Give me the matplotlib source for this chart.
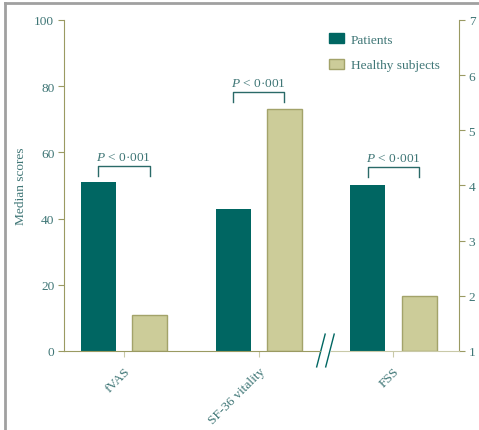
import numpy as np
import matplotlib
matplotlib.use('Agg')
import matplotlib.pyplot as plt
import matplotlib.transforms as mtransforms
from matplotlib.lines import Line2D
from matplotlib.patches import Patch

plt.rcParams['font.family'] = 'Liberation Serif'
plt.rcParams['mathtext.fontset'] = 'custom'
plt.rcParams['mathtext.rm'] = 'Liberation Serif'
plt.rcParams['mathtext.it'] = 'Liberation Serif:italic'

# Median scores (fVAS and SF-36 on 0-100 scale, FSS on 1-7 scale)
categories = ['fVAS', 'SF-36 vitality', 'FSS']
patients = [51, 43, 4.0]
healthy = [11, 73, 2.0]
p_labels = ['$P$ < 0·001', '$P$ < 0·001', '$P$ < 0·001']

teal = '#006662'
khaki = '#cccc99'
khaki_edge = '#a3a36a'
axis_col = '#9a9a62'
text_col = '#3f7676'
fs = 9.6

fig = plt.figure(figsize=(4.79, 4.31), dpi=100)
ax = fig.add_axes([0.1336, 0.1833, 0.8246, 0.768])
ax2 = ax.twinx()

x = np.arange(len(categories))
w = 0.26
off = 0.19

# first two groups on the left scale
ax.bar(x[:2] - off, patients[:2], w, color=teal, label='Patients')
ax.bar(x[:2] + off, healthy[:2], w, color=khaki, edgecolor=khaki_edge,
       linewidth=1, label='Healthy subjects')
# FSS on the right scale
ax2.bar(x[2] - off, patients[2] - 1, w, bottom=1, color=teal)
ax2.bar(x[2] + off, healthy[2] - 1, w, bottom=1, color=khaki,
        edgecolor=khaki_edge, linewidth=1)

ax.set_xlim(-0.445, 2.486)
ax.set_ylim(0, 100)
ax2.set_ylim(1, 7)
ax.set_yticks([0, 20, 40, 60, 80, 100])
ax2.set_yticks(range(1, 8))
ax.set_xticks(x)
ax.set_xticklabels(categories, rotation=45, ha='right', rotation_mode='anchor',
                   color=text_col, fontsize=fs)

for a in (ax, ax2):
    for s in a.spines.values():
        s.set_color(axis_col)
    a.spines['top'].set_visible(False)
ax.spines['right'].set_visible(False)
ax2.spines['left'].set_visible(False)
ax.spines['bottom'].set_bounds(-0.445, 1.455)
ax2.spines['bottom'].set_bounds(1.536, 2.486)
ax2.spines['bottom'].set_color('#c9c9a8')

ax.tick_params(axis='y', direction='out', length=4, color=axis_col,
               labelcolor=text_col, labelsize=fs, pad=3)
ax.tick_params(axis='x', direction='out', length=4, color='#c9c9a8', pad=6)
ax2.tick_params(axis='y', direction='out', length=4, color=axis_col,
                labelcolor=text_col, labelsize=fs, pad=3)

ax.set_ylabel('Median scores', color=text_col, fontsize=fs, labelpad=5)

# axis break marks
trans = mtransforms.blended_transform_factory(ax.transData, ax.transAxes)
for x0 in (1.43, 1.497):
    ax.plot([x0, x0 + 0.063], [-0.048, 0.051], color=teal, lw=1,
            transform=trans, clip_on=False)

# significance brackets
brackets = [(0, 55.9, 52.9), (1, 78.2, 75.2), (2, 55.6, 52.6)]
for (gx, top, leg), lab in zip(brackets, p_labels):
    ax.plot([gx - off, gx - off, gx + off, gx + off], [leg, top, top, leg],
            color='#2a6a68', lw=1)
    ax.text(gx, top + 1.0, lab, ha='center', va='bottom', color=text_col,
            fontsize=fs)

handles = [Patch(facecolor=teal, edgecolor=teal),
           Patch(facecolor=khaki, edgecolor=khaki_edge)]
ax.legend(handles, ['Patients', 'Healthy subjects'], loc='upper left',
          bbox_to_anchor=(0.64, 0.997), frameon=False, fontsize=fs,
          labelcolor=text_col, handlelength=1.15, handleheight=0.75,
          labelspacing=1.0, handletextpad=0.5)

# grey frame along the top and left
fig.add_artist(Line2D([5 / 479, 5 / 479], [0, 1 - 4 / 431], color='#a0a0a0', lw=2))
fig.add_artist(Line2D([5 / 479, 1], [1 - 4 / 431, 1 - 4 / 431], color='#a0a0a0', lw=2))

fig.savefig('out.png', dpi=100)
